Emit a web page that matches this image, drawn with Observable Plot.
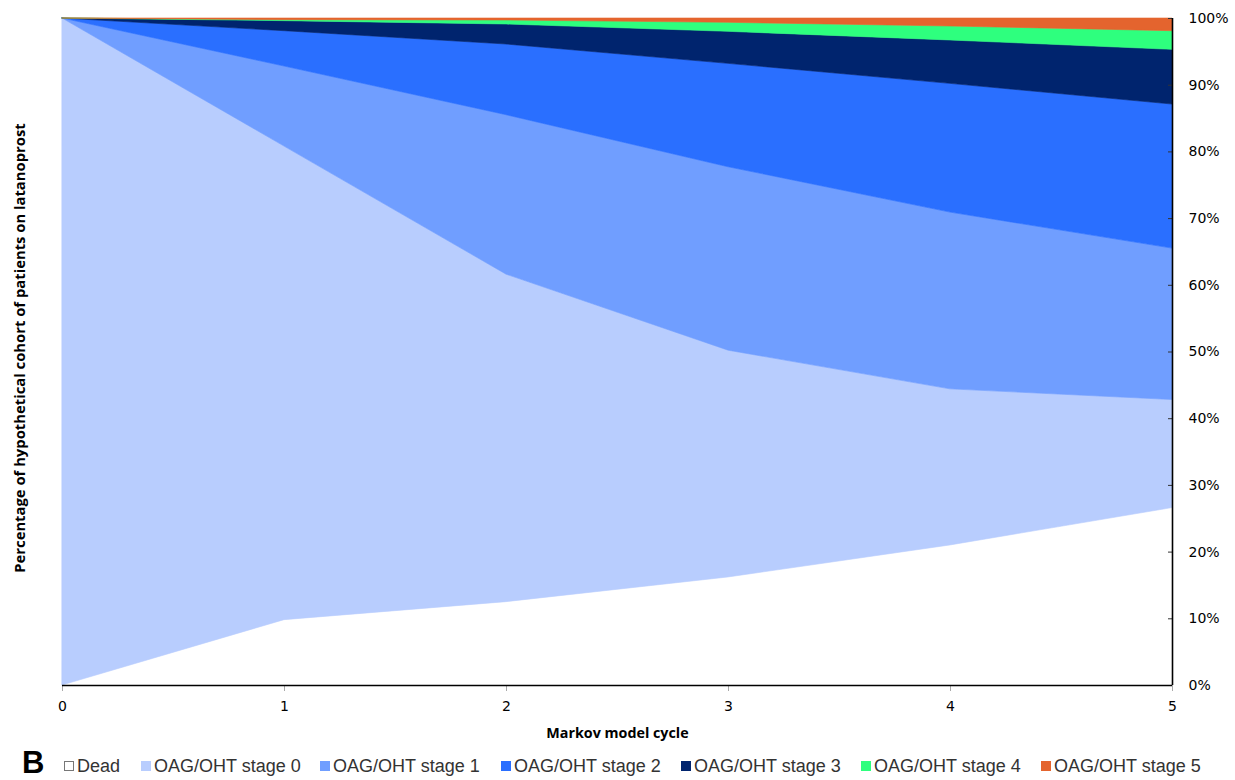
<!DOCTYPE html>
<html>
<head>
<meta charset="utf-8">
<script src="https://cdn.jsdelivr.net/npm/d3@7"></script>
<script src="https://cdn.jsdelivr.net/npm/@observablehq/plot@0.6"></script>
<style>
  body { margin: 0; background: #fff; }
  #chart { position: relative; width: 1235px; height: 780px; }
  #legend { position: absolute; left: 0; top: 753px; width: 1235px; height: 27px;
            font-family: "Liberation Sans", Arial, sans-serif; font-size: 18px; color: #333; }
  #legend .b { position: absolute; left: 22px; top: -8px; font-size: 31px; font-weight: bold; color: #000; }
  #legend .item { position: absolute; top: 3px; white-space: nowrap; }
  #legend .sw { display: inline-block; width: 10px; height: 10px; margin-right: 3px; vertical-align: 1px; box-sizing: border-box; }
</style>
</head>
<body>
<div id="chart"></div>
<script>
const cycles = [0, 1, 2, 3, 4, 5];
const stages = ["Dead", "OAG/OHT stage 0", "OAG/OHT stage 1", "OAG/OHT stage 2",
                "OAG/OHT stage 3", "OAG/OHT stage 4", "OAG/OHT stage 5"];
const colors = ["#ffffff", "#b8cdfe", "#709eff", "#2a6fff", "#00246e", "#2eff7e", "#e4642e"];
// percentage of cohort in each state per cycle
const dead   = [0, 9.8, 12.5, 16.2, 21.0, 26.6];
const stage0 = [100, 71.0, 49.1, 34.0, 23.4, 16.2];
const stage1 = [0, 12.0, 23.9, 27.5, 26.5, 22.7];
const stage2 = [0, 5.3, 10.6, 15.5, 19.3, 21.6];
const stage3 = [0, 1.5, 3.0, 4.8, 6.5, 8.2];
const stage4 = [0, 0.15, 0.6, 1.35, 2.1, 2.8];
const stage5 = [0, 0.25, 0.3, 0.65, 1.2, 1.9];
const yTicks = [0, 10, 20, 30, 40, 50, 60, 70, 80, 90, 100];
const yTitle = "Percentage of hypothetical cohort of patients on latanoprost";
const xTitle = "Markov model cycle";
const panelLetter = "B";

const series = [dead, stage0, stage1, stage2, stage3, stage4, stage5];
const data = [];
series.forEach((vals, i) => vals.forEach((v, j) => data.push({cycle: cycles[j], stage: stages[i], value: v})));

const plot = Plot.plot({
  width: 1235,
  height: 745,
  marginTop: 18,
  marginBottom: 60,
  marginLeft: 62,
  marginRight: 63,
  x: {domain: [0, 5]},
  y: {domain: [0, 100]},
  color: {domain: stages, range: colors},
  style: {fontFamily: "DejaVu Sans, sans-serif", fontSize: "14px", color: "#000"},
  marks: [
    Plot.areaY(data, {x: "cycle", y: "value", z: "stage", fill: "stage", stroke: "stage", strokeWidth: 0.6, order: stages}),
    Plot.axisY({anchor: "right", ticks: yTicks, tickSize: 0, tickPadding: 16, tickFormat: d => d + "%", label: null, fontSize: 14}),
    Plot.axisY({anchor: "right", ticks: yTicks.slice(1), tickSize: -5, text: null, stroke: "#333", label: null}),
    Plot.axisX({ticks: cycles, tickSize: 6, tickPadding: 10, stroke: "#aaa", tickFormat: d3.format("d"), label: null, fontSize: 14}),
    Plot.ruleY([0], {stroke: "#000", strokeWidth: 1.6}),
    Plot.ruleX([5], {stroke: "#000", strokeWidth: 1.6}),
    Plot.text([xTitle], {frameAnchor: "bottom", dy: 52, fontWeight: "bold", fontSize: 14.3, fontFamily: "Open Sans, sans-serif", fill: "#000"}),
    Plot.text([yTitle], {frameAnchor: "left", textAnchor: "middle", dx: -42, dy: -4, rotate: -90, fontWeight: "bold", fontSize: 14.8, fontFamily: "Open Sans, sans-serif", fill: "#000"})
  ]
});
const chart = document.getElementById("chart");
chart.appendChild(plot);

const legend = document.createElement("div");
legend.id = "legend";
const b = document.createElement("span");
b.className = "b";
b.textContent = panelLetter;
legend.appendChild(b);
const lefts = [64, 141, 320, 501, 681, 861, 1041];
stages.forEach((s, i) => {
  const it = document.createElement("span");
  it.className = "item";
  it.style.left = lefts[i] + "px";
  const sw = document.createElement("span");
  sw.className = "sw";
  sw.style.background = colors[i];
  if (i === 0) sw.style.border = "1px solid #777";
  it.appendChild(sw);
  it.appendChild(document.createTextNode(s));
  legend.appendChild(it);
});
chart.appendChild(legend);
</script>
</body>
</html>
